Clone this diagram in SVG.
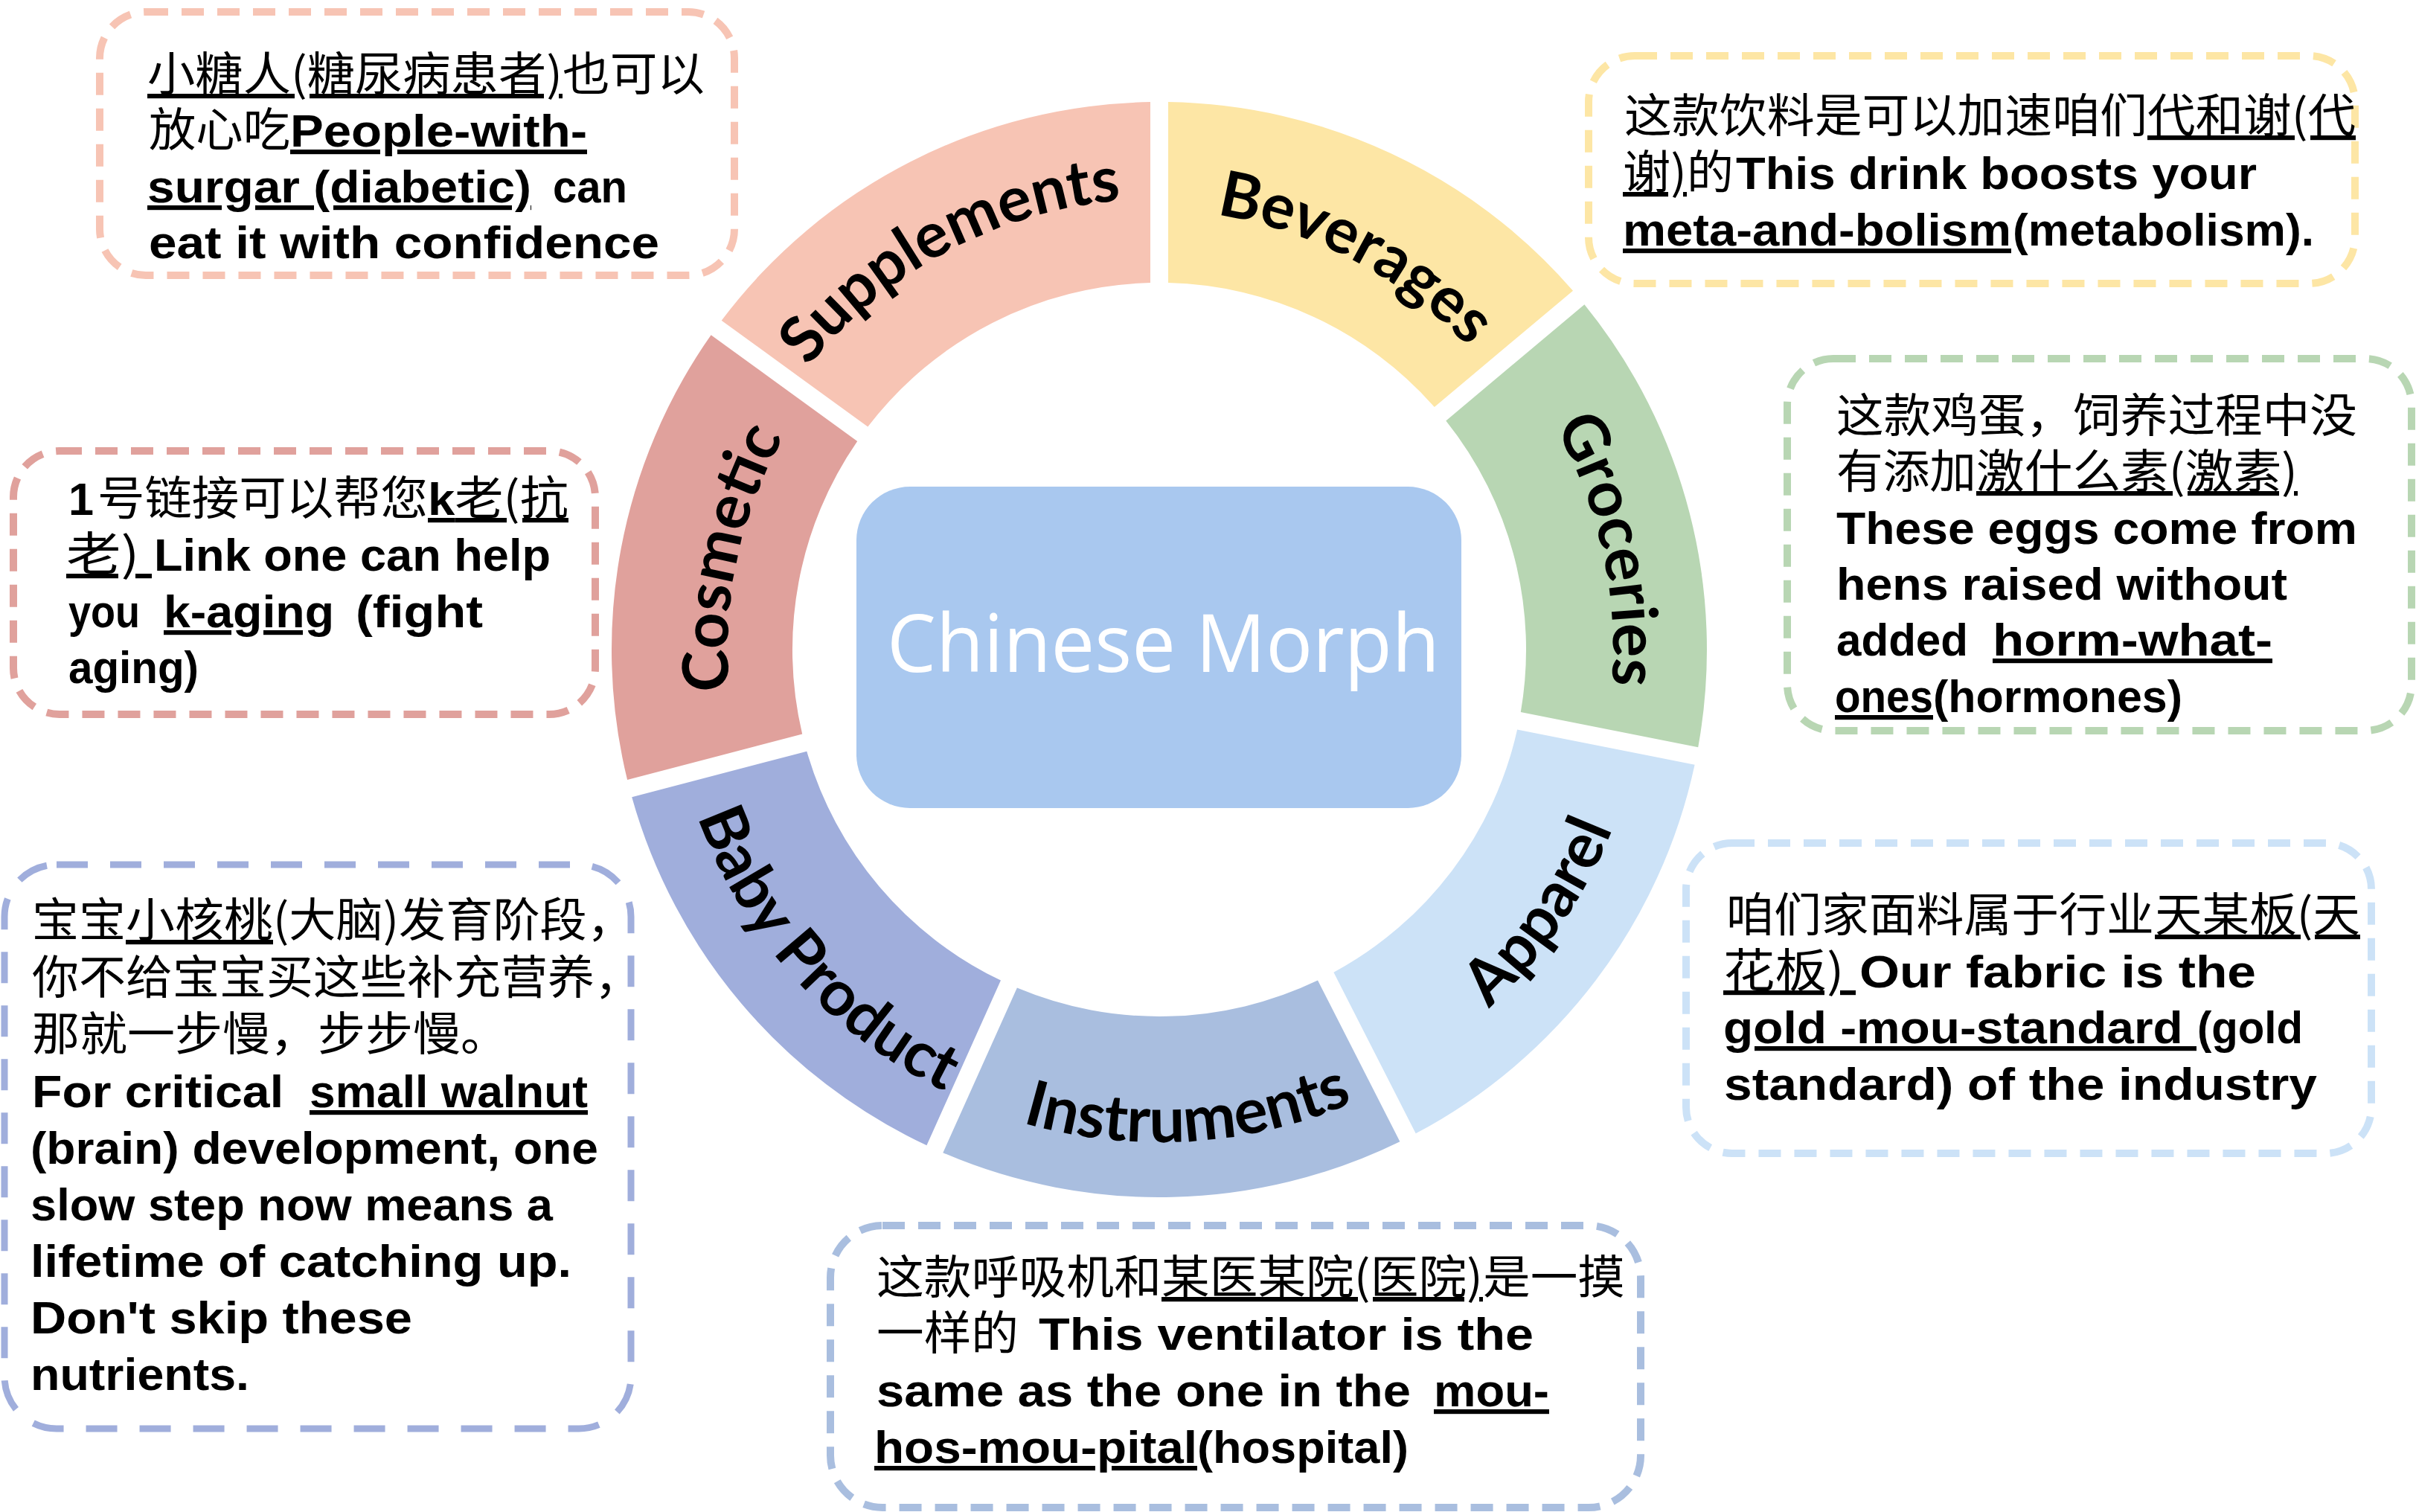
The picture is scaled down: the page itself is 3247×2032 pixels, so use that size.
<svg xmlns="http://www.w3.org/2000/svg" width="3247" height="2032" viewBox="0 0 3247 2032">
<style>
.seg-label{font-family:Lato,"Noto Sans",sans-serif;font-weight:700;font-size:85px;fill:#000}
.box{fill:#fff;stroke-width:10;stroke-dasharray:30 18}
.t{font-family:"Liberation Sans","Noto Sans CJK SC",sans-serif;font-weight:700;font-size:62px;fill:#000;white-space:pre}
.c{font-family:"Noto Sans CJK SC",sans-serif;font-weight:400}
.u{text-decoration:underline}
.center-label{font-family:"Open Sans",sans-serif;font-size:108px;fill:#fff}
</style>
<defs>
<path id="p-supp" d="M978.5,695.8 A606,606 0 0 1 1735.2,293.5"/>
<path id="p-bev" d="M1383.4,302.0 A598,598 0 0 1 2104.9,681.4"/>
<path id="p-groc" d="M1885.8,358.5 A610,610 0 0 1 2072.5,1200.8"/>
<path id="p-cos" d="M1071.6,1188.9 A580,580 0 0 1 1242.1,386.6"/>
<path id="p-app" d="M1677.6,1516.1 A655,655 0 0 0 2202.9,754.4"/>
<path id="p-ins" d="M1119.4,1368.8 A662,662 0 0 0 2053.8,1311.6"/>
<path id="p-baby" d="M898.9,838.5 A660,660 0 0 0 1523.5,1532.1"/>
</defs>
<rect width="3247" height="2032" fill="#fff"/>
<g id="ring">
<g id="node-supplements"><path fill="#F7C4B4" d="M969.7,430.7 A736,736 0 0 1 1546.0,137.1 L1546.0,380.1 A493,493 0 0 0 1166.3,573.6 Z"/><text class="seg-label"><textPath href="#p-supp" startOffset="50%" text-anchor="middle">Supplements</textPath></text></g>
<g id="node-beverages"><path fill="#FDE6A5" d="M1570.0,137.1 A736,736 0 0 1 2114.0,390.7 L1927.8,547.0 A493,493 0 0 0 1570.0,380.1 Z"/><text class="seg-label"><textPath href="#p-bev" startOffset="50%" text-anchor="middle">Beverages</textPath></text></g>
<g id="node-groceries"><path fill="#B8D6B3" d="M2129.4,409.2 A736,736 0 0 1 2282.2,1004.2 L2043.8,957.0 A493,493 0 0 0 1943.3,565.4 Z"/><text class="seg-label"><textPath href="#p-groc" startOffset="50%" text-anchor="middle">Groceries</textPath></text></g>
<g id="node-apparel"><path fill="#CCE2F7" d="M2277.6,1027.7 A736,736 0 0 1 1902.7,1523.3 L1792.4,1306.7 A493,493 0 0 0 2039.1,980.5 Z"/><text class="seg-label"><textPath href="#p-app" startOffset="50%" text-anchor="middle">Apparel</textPath></text></g>
<g id="node-instruments"><path fill="#A9BEDF" d="M1881.4,1534.2 A736,736 0 0 1 1267.3,1549.2 L1366.9,1327.5 A493,493 0 0 0 1771.0,1317.6 Z"/><text class="seg-label"><textPath href="#p-ins" startOffset="50%" text-anchor="middle">Instruments</textPath></text></g>
<g id="node-baby-product"><path fill="#A0AEDC" d="M1245.4,1539.3 A736,736 0 0 1 849.2,1071.3 L1084.3,1009.7 A493,493 0 0 0 1345.0,1317.6 Z"/><text class="seg-label"><textPath href="#p-baby" startOffset="50%" text-anchor="middle">Baby Product</textPath></text></g>
<g id="node-cosmetic"><path fill="#E0A19C" d="M843.1,1048.1 A736,736 0 0 1 955.6,450.2 L1152.2,593.0 A493,493 0 0 0 1078.2,986.5 Z"/><text class="seg-label"><textPath href="#p-cos" startOffset="50%" text-anchor="middle">Cosmetic</textPath></text></g>
</g>
<g id="node-center"><rect x="1151" y="654" width="813" height="432" rx="72" fill="#A9C8EF"/><text class="center-label" x="1192" y="903" textLength="743" lengthAdjust="spacingAndGlyphs">Chinese Morph</text></g>
<g id="connectors"/>
<g id="box-supplements">
<rect class="box" x="134" y="16" width="853" height="354" rx="62" stroke="#F7C4B4"/>
<text class="t" y="122"><tspan class="c u" x="198" textLength="558" lengthAdjust="spacingAndGlyphs">小糖人(糖尿病患者)</tspan><tspan class="c" x="756" textLength="191" lengthAdjust="spacingAndGlyphs">也可以</tspan></text>
<text class="t" y="197"><tspan class="c" x="200" textLength="190" lengthAdjust="spacingAndGlyphs">放心吃</tspan><tspan class="u" x="390" textLength="399" lengthAdjust="spacingAndGlyphs">People-with-</tspan></text>
<text class="t" y="272"><tspan class="u" x="198" textLength="516" lengthAdjust="spacingAndGlyphs">surgar (diabetic)</tspan><tspan x="743" textLength="100" lengthAdjust="spacingAndGlyphs">can</tspan></text>
<text class="t" y="347"><tspan x="200" textLength="686" lengthAdjust="spacingAndGlyphs">eat it with confidence</tspan></text>
</g>
<g id="box-beverages">
<rect class="box" x="2135" y="75" width="1030" height="306" rx="62" stroke="#FDE6A5"/>
<text class="t" y="178"><tspan class="c" x="2183" textLength="703" lengthAdjust="spacingAndGlyphs">这款饮料是可以加速咱们</tspan><tspan class="c u" x="2886" textLength="280" lengthAdjust="spacingAndGlyphs">代和谢(代</tspan></text>
<text class="t" y="254"><tspan class="c u" x="2181" textLength="86" lengthAdjust="spacingAndGlyphs">谢)</tspan><tspan class="c" x="2267" textLength="63" lengthAdjust="spacingAndGlyphs">的</tspan><tspan x="2333" textLength="700" lengthAdjust="spacingAndGlyphs">This drink boosts your</tspan></text>
<text class="t" y="330"><tspan class="u" x="2181" textLength="522" lengthAdjust="spacingAndGlyphs">meta-and-bolism</tspan><tspan x="2705" textLength="405" lengthAdjust="spacingAndGlyphs">(metabolism).</tspan></text>
</g>
<g id="box-groceries">
<rect class="box" x="2402" y="482" width="839" height="500" rx="62" stroke="#B8D6B3"/>
<text class="t" y="581"><tspan class="c" x="2468" textLength="700" lengthAdjust="spacingAndGlyphs">这款鸡蛋，饲养过程中没</tspan></text>
<text class="t" y="656"><tspan class="c" x="2468" textLength="188" lengthAdjust="spacingAndGlyphs">有添加</tspan><tspan class="c u" x="2656" textLength="432" lengthAdjust="spacingAndGlyphs">激什么素(激素)</tspan></text>
<text class="t" y="731"><tspan x="2468" textLength="700" lengthAdjust="spacingAndGlyphs">These eggs come from</tspan></text>
<text class="t" y="806"><tspan x="2468" textLength="606" lengthAdjust="spacingAndGlyphs">hens raised without</tspan></text>
<text class="t" y="881"><tspan x="2468" textLength="177" lengthAdjust="spacingAndGlyphs">added</tspan><tspan class="u" x="2678" textLength="376" lengthAdjust="spacingAndGlyphs">horm-what-</tspan></text>
<text class="t" y="957"><tspan class="u" x="2466" textLength="132" lengthAdjust="spacingAndGlyphs">ones</tspan><tspan x="2598" textLength="335" lengthAdjust="spacingAndGlyphs">(hormones)</tspan></text>
</g>
<g id="box-cosmetic">
<rect class="box" x="18" y="606" width="782" height="354" rx="62" stroke="#E0A19C"/>
<text class="t" y="692"><tspan x="92" textLength="34" lengthAdjust="spacingAndGlyphs">1</tspan><tspan class="c" x="131" textLength="444" lengthAdjust="spacingAndGlyphs">号链接可以帮您</tspan><tspan class="u" x="575" textLength="189" lengthAdjust="spacingAndGlyphs">k<tspan class="c">老(抗</tspan></tspan></text>
<text class="t" y="767"><tspan class="c u" x="89" textLength="115" lengthAdjust="spacingAndGlyphs">老) </tspan><tspan x="207" textLength="533" lengthAdjust="spacingAndGlyphs">Link one can help</tspan></text>
<text class="t" y="843"><tspan x="92" textLength="96" lengthAdjust="spacingAndGlyphs">you</tspan><tspan class="u" x="220" textLength="229" lengthAdjust="spacingAndGlyphs">k-aging</tspan><tspan x="478" textLength="171" lengthAdjust="spacingAndGlyphs">(fight</tspan></text>
<text class="t" y="918"><tspan x="92" textLength="175" lengthAdjust="spacingAndGlyphs">aging)</tspan></text>
</g>
<g id="box-baby-product">
<rect class="box" x="6" y="1162" width="842" height="758" rx="70" stroke="#A0AEDC" style="stroke-width:9;stroke-dasharray:42 30"/>
<text class="t" y="1259"><tspan class="c" x="43" textLength="126" lengthAdjust="spacingAndGlyphs">宝宝</tspan><tspan class="c u" x="169" textLength="198" lengthAdjust="spacingAndGlyphs">小核桃</tspan><tspan class="c" x="367" textLength="485" lengthAdjust="spacingAndGlyphs">(大脑)发育阶段，</tspan></text>
<text class="t" y="1336"><tspan class="c" x="43" textLength="819" lengthAdjust="spacingAndGlyphs">你不给宝宝买这些补充营养，</tspan></text>
<text class="t" y="1412"><tspan class="c" x="43" textLength="640" lengthAdjust="spacingAndGlyphs">那就一步慢，步步慢。</tspan></text>
<text class="t" y="1488"><tspan x="43" textLength="338" lengthAdjust="spacingAndGlyphs">For critical</tspan><tspan class="u" x="416" textLength="374" lengthAdjust="spacingAndGlyphs">small walnut</tspan></text>
<text class="t" y="1564"><tspan x="41" textLength="763" lengthAdjust="spacingAndGlyphs">(brain) development, one</tspan></text>
<text class="t" y="1640"><tspan x="41" textLength="702" lengthAdjust="spacingAndGlyphs">slow step now means a</tspan></text>
<text class="t" y="1716"><tspan x="41" textLength="727" lengthAdjust="spacingAndGlyphs">lifetime of catching up.</tspan></text>
<text class="t" y="1792"><tspan x="41" textLength="513" lengthAdjust="spacingAndGlyphs">Don't skip these</tspan></text>
<text class="t" y="1868"><tspan x="41" textLength="294" lengthAdjust="spacingAndGlyphs">nutrients.</tspan></text>
</g>
<g id="box-instruments">
<rect class="box" x="1116" y="1647" width="1089" height="379" rx="70" stroke="#A9BEDF"/>
<text class="t" y="1739"><tspan class="c" x="1178" textLength="383" lengthAdjust="spacingAndGlyphs">这款呼吸机和</tspan><tspan class="c u" x="1561" textLength="432" lengthAdjust="spacingAndGlyphs">某医某院(医院)</tspan><tspan class="c" x="1993" textLength="191" lengthAdjust="spacingAndGlyphs">是一摸</tspan></text>
<text class="t" y="1814"><tspan class="c" x="1178" textLength="191" lengthAdjust="spacingAndGlyphs">一样的</tspan><tspan x="1396" textLength="665" lengthAdjust="spacingAndGlyphs">This ventilator is the</tspan></text>
<text class="t" y="1890"><tspan x="1178" textLength="718" lengthAdjust="spacingAndGlyphs">same as the one in the</tspan><tspan class="u" x="1927" textLength="155" lengthAdjust="spacingAndGlyphs">mou-</tspan></text>
<text class="t" y="1966"><tspan class="u" x="1175" textLength="434" lengthAdjust="spacingAndGlyphs">hos-mou-pital</tspan><tspan x="1609" textLength="284" lengthAdjust="spacingAndGlyphs">(hospital)</tspan></text>
</g>
<g id="box-apparel">
<rect class="box" x="2266" y="1133" width="921" height="417" rx="62" stroke="#CCE2F7"/>
<text class="t" y="1252"><tspan class="c" x="2320" textLength="575" lengthAdjust="spacingAndGlyphs">咱们家面料属于行业</tspan><tspan class="c u" x="2896" textLength="276" lengthAdjust="spacingAndGlyphs">天某板(天</tspan></text>
<text class="t" y="1327"><tspan class="c u" x="2316" textLength="178" lengthAdjust="spacingAndGlyphs">花板) </tspan><tspan x="2499" textLength="533" lengthAdjust="spacingAndGlyphs">Our fabric is the</tspan></text>
<text class="t" y="1402"><tspan class="u" x="2316" textLength="636" lengthAdjust="spacingAndGlyphs">gold -mou-standard </tspan><tspan x="2953" textLength="142" lengthAdjust="spacingAndGlyphs">(gold</tspan></text>
<text class="t" y="1478"><tspan x="2317" textLength="797" lengthAdjust="spacingAndGlyphs">standard) of the industry</tspan></text>
</g>
</svg>
